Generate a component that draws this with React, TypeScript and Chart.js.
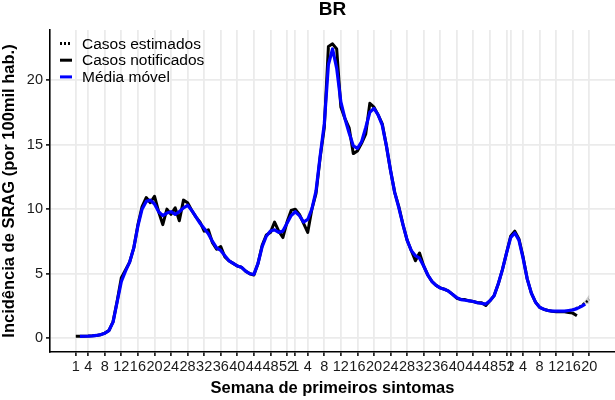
import React, { useEffect, useRef } from "react";
import { Chart, registerables } from "chart.js";

Chart.register(...registerables);

// x positions: week index counted from epidemiological week 1 of 2020 (2020 has 53 weeks, 2021 has 52)
const tickIndex = [0, 3, 7, 11, 15, 19, 23, 27, 31, 35, 39, 43, 47, 51,
  53, 56, 60, 64, 68, 72, 76, 80, 84, 88, 92, 96, 100, 104,
  105, 108, 112, 116, 120, 124];
const tickLabels = ["1", "4", "8", "12", "16", "20", "24", "28", "32", "36", "40", "44", "48", "52",
  "1", "4", "8", "12", "16", "20", "24", "28", "32", "36", "40", "44", "48", "52",
  "1", "4", "8", "12", "16", "20"];
const yTicks = [0, 5, 10, 15, 20];

// Casos notificados (week index 0..121)
const notificados = [
  0.15, 0.15, 0.16, 0.17, 0.19, 0.22, 0.28, 0.4, 0.6, 1.3,
  2.9, 4.7, 5.3, 5.9, 7.0, 8.8, 10.2, 10.9, 10.5, 11.0,
  9.8, 8.8, 10.0, 9.6, 10.1, 9.1, 10.7, 10.5, 9.9, 9.4,
  9.0, 8.3, 8.4, 7.4, 6.9, 7.1, 6.3, 6.0, 5.8, 5.6,
  5.5, 5.2, 5.0, 4.9, 5.8, 7.2, 8.0, 8.2, 9.0, 8.3,
  7.8, 9.0, 9.9, 10.0, 9.6, 8.9, 8.2, 10.0, 11.2, 14.0,
  16.3, 22.6, 22.8, 22.4, 17.9, 17.0, 16.3, 14.3, 14.5, 15.1,
  15.8, 18.2, 17.9, 17.3, 16.6, 14.9, 13.0, 11.3, 10.2, 8.8,
  7.6, 6.8, 6.0, 6.6, 5.6, 4.9, 4.4, 4.1, 3.9, 3.8,
  3.65, 3.4, 3.1, 3.0, 3.0, 2.9, 2.85, 2.75, 2.75, 2.55,
  2.9, 3.3, 4.2, 5.3, 6.6, 7.9, 8.3, 7.7, 6.3, 4.6,
  3.5, 2.8, 2.4, 2.25, 2.15, 2.1, 2.05, 2.05, 2.05, 2.0,
  1.95, 1.75,
];

// Média móvel (week index 0..123; first week empty)
const mediaMovel = [
  null, 0.15, 0.16, 0.17, 0.19, 0.22, 0.28, 0.39, 0.6, 1.25,
  2.85, 4.4, 5.2, 5.9, 7.0, 8.7, 10.0, 10.6, 10.7, 10.4,
  9.8, 9.5, 9.7, 9.8, 9.6, 9.8, 10.1, 10.3, 9.9, 9.4,
  8.9, 8.5, 8.1, 7.5, 7.0, 6.8, 6.4, 6.0, 5.8, 5.6,
  5.5, 5.2, 5.0, 4.95, 5.8, 7.1, 7.9, 8.3, 8.4, 8.2,
  8.3, 8.9, 9.5, 9.8, 9.5, 9.0, 9.2, 10.0, 11.4, 14.1,
  16.6, 21.2, 22.4, 20.9, 18.3, 17.0, 15.9, 14.9, 14.7, 15.2,
  16.3, 17.5, 17.8, 17.3, 16.5, 14.9, 13.0, 11.3, 10.1, 8.8,
  7.6, 6.8, 6.4, 6.2, 5.6, 4.9, 4.4, 4.1, 3.9, 3.8,
  3.65, 3.4, 3.15, 3.0, 2.95, 2.9, 2.85, 2.75, 2.7, 2.65,
  2.9, 3.3, 4.2, 5.3, 6.6, 7.8, 8.15, 7.6, 6.2, 4.6,
  3.5, 2.8, 2.4, 2.25, 2.15, 2.1, 2.1, 2.1, 2.1, 2.15,
  2.2, 2.3, 2.45, 2.65,
];

// Casos estimados (nowcasting) for the last weeks, with interval
const estimadosInicio = 118;
const estimados = [2.05, 2.1, 2.2, 2.35, 2.5, 2.75, 3.0];
const estimadosInf = [2.05, 2.1, 2.15, 2.3, 2.45, 2.6, 2.7];
const estimadosSup = [2.05, 2.1, 2.25, 2.4, 2.6, 2.95, 3.4];

const FONT = '"Liberation Sans", Arial, Helvetica, sans-serif';

const toPoints = (arr: (number | null)[], start = 0) =>
  arr.map((v, k) => ({ x: start + k, y: v }));

const legendItems = [
  { label: "Casos estimados", color: "#000000", dash: [2, 2], len: 10 },
  { label: "Casos notificados", color: "#000000", dash: [], len: 12 },
  { label: "Média móvel", color: "#0000FF", dash: [], len: 12 },
];

const insideLegend = {
  id: "insideLegend",
  afterDraw(chart: any) {
    const { ctx, chartArea } = chart;
    ctx.save();
    ctx.font = `15.5px ${FONT}`;
    ctx.textBaseline = "middle";
    ctx.textAlign = "left";
    legendItems.forEach((item, k) => {
      const y = chartArea.top + 14.5 + k * 16.7;
      ctx.strokeStyle = item.color;
      ctx.lineWidth = 3;
      ctx.setLineDash(item.dash);
      ctx.beginPath();
      ctx.moveTo(chartArea.left + 10, y - 1);
      ctx.lineTo(chartArea.left + 10 + item.len, y - 1);
      ctx.stroke();
      ctx.setLineDash([]);
      ctx.fillStyle = "#000000";
      ctx.fillText(item.label, chartArea.left + 32, y);
    });
    ctx.restore();
  },
};

export default function App() {
  const ref = useRef<HTMLCanvasElement | null>(null);

  useEffect(() => {
    if (!ref.current) return;
    const labelMap: Record<number, string> = {};
    tickIndex.forEach((v, k) => (labelMap[v] = tickLabels[k]));

    const chart = new Chart(ref.current, {
      type: "line",
      data: {
        datasets: [
          {
            label: "IC inferior",
            data: toPoints(estimadosInf, estimadosInicio),
            order: 5,
            borderWidth: 0,
            pointRadius: 0,
            borderColor: "rgba(0,0,0,0)",
            fill: false,
            tension: 0,
          },
          {
            label: "IC superior",
            data: toPoints(estimadosSup, estimadosInicio),
            order: 4,
            borderWidth: 0,
            pointRadius: 0,
            borderColor: "rgba(0,0,0,0)",
            backgroundColor: "rgba(150,150,150,0.45)",
            fill: "-1",
            tension: 0,
          },
          {
            label: "Casos estimados",
            data: toPoints(estimados, estimadosInicio),
            order: 3,
            borderColor: "#000000",
            borderWidth: 2.5,
            borderDash: [2, 2],
            pointRadius: 0,
            fill: false,
            tension: 0,
          },
          {
            label: "Casos notificados",
            data: toPoints(notificados),
            order: 2,
            borderColor: "#000000",
            borderWidth: 3,
            pointRadius: 0,
            fill: false,
            tension: 0,
            borderJoinStyle: "round",
          },
          {
            label: "Média móvel",
            data: toPoints(mediaMovel),
            order: 1,
            borderColor: "#0000FF",
            borderWidth: 3.2,
            pointRadius: 0,
            fill: false,
            tension: 0,
            spanGaps: false,
            borderJoinStyle: "round",
          },
        ],
      },
      options: {
        animation: false,
        responsive: false,
        devicePixelRatio: 1,
        layout: { padding: { left: 0, right: 0, top: 0, bottom: 0 } },
        plugins: {
          legend: { display: false },
          tooltip: { enabled: false },
          title: {
            display: true,
            text: "BR",
            fullSize: false,
            color: "#000000",
            font: { family: FONT, size: 19, weight: "bold", lineHeight: 1 },
            padding: { top: 0, bottom: 11 },
          },
        },
        scales: {
          x: {
            type: "linear",
            min: -6.23,
            max: 130.2,
            afterBuildTicks: (s: any) => {
              s.ticks = tickIndex.map((v) => ({ value: v }));
            },
            afterFit: (s: any) => {
              s.height = 48;
            },
            ticks: {
              autoSkip: false,
              maxRotation: 0,
              minRotation: 0,
              padding: 2,
              color: "#1A1A1A",
              font: { family: FONT, size: 14.5 },
              callback: (v: any) => labelMap[v as number] ?? "",
            },
            grid: {
              color: "#EBEBEB",
              lineWidth: 1.8,
              tickColor: "#000000",
              tickLength: 4,
              tickWidth: 1.5,
            },
            border: { color: "#000000", width: 1.6 },
            title: {
              display: true,
              text: "Semana de primeiros sintomas",
              color: "#000000",
              font: { family: FONT, size: 16.5, weight: "bold" },
              padding: { top: 0, bottom: 2 },
            },
          },
          y: {
            type: "linear",
            min: -1.06,
            max: 23.87,
            afterBuildTicks: (s: any) => {
              s.ticks = yTicks.map((v) => ({ value: v }));
            },
            afterFit: (s: any) => {
              s.width = 50;
            },
            ticks: {
              padding: 3,
              color: "#1A1A1A",
              font: { family: FONT, size: 14.5 },
            },
            grid: {
              color: "#EBEBEB",
              lineWidth: 1.8,
              tickColor: "#000000",
              tickLength: 4,
              tickWidth: 1.5,
            },
            border: { color: "#000000", width: 1.6 },
            title: {
              display: true,
              text: "Incidência de SRAG (por 100mil hab.)",
              color: "#000000",
              font: { family: FONT, size: 16.5, weight: "bold" },
              padding: { top: 0, bottom: 0 },
            },
          },
        },
      },
      plugins: [insideLegend],
    } as any);

    return () => chart.destroy();
  }, []);

  return (
    <div style={{ position: "absolute", left: 0, top: 0, width: 615, height: 400, background: "#ffffff" }}>
      <canvas ref={ref} width={615} height={400} style={{ display: "block", width: 615, height: 400 }} />
    </div>
  );
}
